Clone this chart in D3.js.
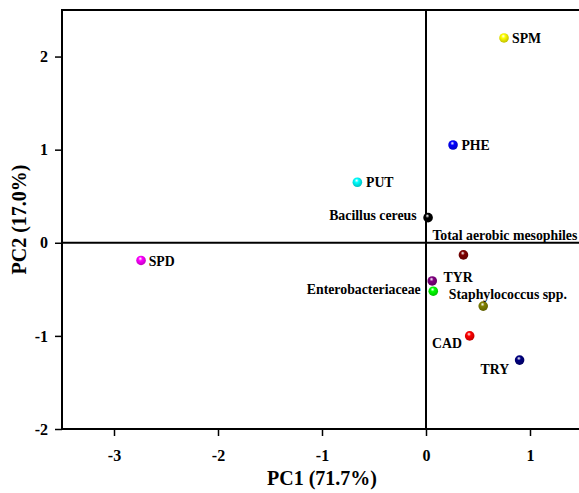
<!DOCTYPE html>
<html>
<head>
<meta charset="utf-8">
<script src="https://cdn.jsdelivr.net/npm/d3@7"></script>
<style>
  html, body { margin: 0; padding: 0; background: #fff; }
  svg { display: block; }
  text { font-family: "Liberation Serif", "Times New Roman", serif; font-weight: bold; fill: #000; }
</style>
</head>
<body>
<svg id="chart" width="579" height="493"></svg>
<script>
// ---- data ----
const names = ["SPM", "PHE", "PUT", "Bacillus cereus", "Total aerobic mesophiles", "TYR",
               "Enterobacteriaceae", "Staphylococcus spp.", "CAD", "TRY", "SPD"];
const pc1 = [0.75, 0.26, -0.66, 0.02, 0.36, 0.06, 0.07, 0.55, 0.42, 0.90, -2.74];
const pc2 = [2.20, 1.05, 0.65, 0.27, -0.13, -0.41, -0.52, -0.68, -1.00, -1.26, -0.19];
const xTicks = [-3, -2, -1, 0, 1];
const yTicks = [-2, -1, 0, 1, 2];
const xTitle = "PC1 (71.7%)";
const yTitle = "PC2 (17.0%)";

// ---- styling ----
const colors = ["#ffff00", "#0000ff", "#00ffff", "#000000", "#800000", "#800080",
                "#00ff00", "#808000", "#ff0000", "#000080", "#ff00ff"];
// label placement relative to point (px): [dx, dy, anchor]
const labelPlace = [
  [8, 4.8, "start"], [8.4, 5.2, "start"], [8.6, 5, "start"], [-11.4, 2.6, "end"],
  [-31, -14.6, "start"], [11.3, 1, "start"], [-12.6, 2.7, "end"], [-34.4, -7, "start"],
  [-37.7, 12, "start"], [-39, 14.3, "start"], [7.6, 5.2, "start"]
];

const svg = d3.select("#chart");
const L = 62, R = 582, T = 10, B = 429;
const x = d3.scaleLinear().domain([-3.5, 1.5]).range([L, R]);
const y = d3.scaleLinear().domain([-2, 2.5]).range([B, T]);

// gradients for spheres
const defs = svg.append("defs");
colors.forEach((c, i) => {
  const g = defs.append("radialGradient").attr("id", "g" + i)
    .attr("cx", "45%").attr("cy", "40%").attr("r", "60%")
    .attr("fx", "42%").attr("fy", "30%");
  g.append("stop").attr("offset", "0%").attr("stop-color", "#ffffff");
  g.append("stop").attr("offset", "35%").attr("stop-color", c);
  g.append("stop").attr("offset", "100%").attr("stop-color", d3.color(c).darker(0.8));
});

// frame
svg.append("path")
  .attr("d", `M${R},${T}H${L}V${B}H${R}`)
  .attr("fill", "none").attr("stroke", "#000").attr("stroke-width", 2);

// zero lines
svg.append("line").attr("x1", x(0)).attr("x2", x(0)).attr("y1", T).attr("y2", B)
  .attr("stroke", "#000").attr("stroke-width", 2);
svg.append("line").attr("x1", L).attr("x2", R).attr("y1", y(0)).attr("y2", y(0))
  .attr("stroke", "#000").attr("stroke-width", 2);

// axes
const xAxis = svg.append("g").attr("transform", `translate(0,${B})`)
  .call(d3.axisBottom(x).tickValues(xTicks).tickSize(7).tickSizeOuter(0).tickPadding(14).tickFormat(d3.format("d")));
const yAxis = svg.append("g").attr("transform", `translate(${L},0)`)
  .call(d3.axisLeft(y).tickValues(yTicks).tickSize(7).tickSizeOuter(0).tickPadding(7).tickFormat(d3.format("d")));
[xAxis, yAxis].forEach(a => {
  a.select(".domain").remove();
  a.selectAll(".tick line").attr("stroke", "#000").attr("stroke-width", 1.5);
  a.selectAll(".tick text").style("font-family", '"Liberation Serif", serif')
    .style("font-weight", "bold").style("font-size", "16px").attr("fill", "#000");
});
xAxis.selectAll(".tick text").text(d => d < 0 ? "-" + Math.abs(d) : d);
yAxis.selectAll(".tick text").text(d => d < 0 ? "-" + Math.abs(d) : d);

// axis titles
svg.append("text").attr("x", (L + R) / 2).attr("y", 485).attr("text-anchor", "middle")
  .style("font-size", "20px").text(xTitle);
svg.append("text").attr("transform", `translate(26,${(T + B) / 2}) rotate(-90)`)
  .attr("text-anchor", "middle").style("font-size", "20px").text(yTitle);

// points
const pts = names.map((n, i) => ({ n, i, px: x(pc1[i]), py: y(pc2[i]) }));
svg.append("g").selectAll("circle").data(pts).join("circle")
  .attr("cx", d => d.px).attr("cy", d => d.py).attr("r", 4.8)
  .attr("fill", d => `url(#g${d.i})`);

// labels
svg.append("g").selectAll("text").data(pts).join("text")
  .attr("x", d => d.px + labelPlace[d.i][0])
  .attr("y", d => d.py + labelPlace[d.i][1])
  .attr("text-anchor", d => labelPlace[d.i][2])
  .style("font-size", "13.8px")
  .text(d => d.n);
</script>
</body>
</html>
